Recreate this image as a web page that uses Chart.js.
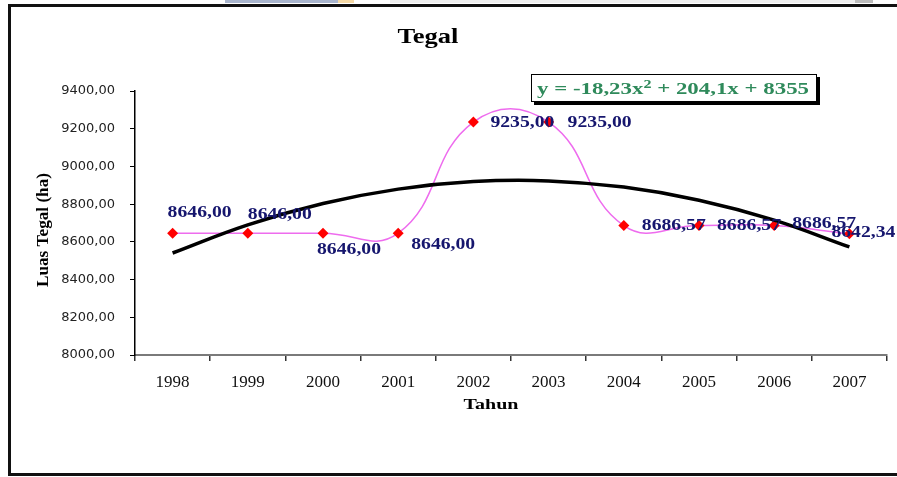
<!DOCTYPE html>
<html>
<head>
<meta charset="utf-8">
<title>Tegal</title>
<script src="https://cdn.jsdelivr.net/npm/chart.js@4.4.1/dist/chart.umd.min.js"></script>
<style>
  html, body { margin: 0; padding: 0; background: #fff; }
  #wrap { position: relative; width: 897px; height: 477px; overflow: hidden; background: #fff; }
  #frame {
    position: absolute; left: 8px; top: 4px; width: 900px; height: 466px;
    border-left: 3px solid #111; border-top: 3px solid #111; border-bottom: 3px solid #111;
  }
  .strip { position: absolute; top: 0; height: 3px; }
  #chart { position: absolute; left: 0; top: 0; }
</style>
</head>
<body>
<div id="wrap">
  <div class="strip" style="left:225px;width:113px;background:#a9b5cd;"></div>
  <div class="strip" style="left:338px;width:16px;background:#f5d9a6;"></div>
  <div class="strip" style="left:390px;width:465px;background:#efefef;"></div>
  <div class="strip" style="left:855px;width:18px;background:#bdbdbd;"></div>
  <div id="frame"></div>
  <canvas id="chart" width="897" height="477"></canvas>
</div>
<script>
// Luas lahan tegal per tahun (ha)
const years = ['1998', '1999', '2000', '2001', '2002', '2003', '2004', '2005', '2006', '2007'];
const luasTegal = [8646, 8646, 8646, 8646, 9235, 9235, 8686.57, 8686.57, 8686.57, 8642.34];
// Polynomial trend y = a·x² + b·x + c, x = 1 for the first year
const trendCoefficients = [-18.23, 204.1, 8355];
const yTicks = [8000, 8200, 8400, 8600, 8800, 9000, 9200, 9400];

const trendValues = years.map((_, i) => {
  const x = i + 1;
  const [a, b, c] = trendCoefficients;
  return a * x * x + b * x + c;
});

const fmt = v => Number(v).toFixed(2).replace('.', ',');
const fmtCoef = v => String(v).replace('.', ',');

// Offsets of each value label (left edge, vertical centre) from its point
const labelOffsets = [
  [-5, -20], [0, -18], [-6, 17], [13, 12], [17, 1],
  [19, 1], [18, 0], [18, 0], [18, -2], [-18, -1]
];

function drawStretched(ctx, text, x, y, sx, sy, align) {
  ctx.save();
  ctx.translate(x, y);
  ctx.scale(sx, sy);
  ctx.textAlign = align;
  ctx.textBaseline = 'middle';
  ctx.fillText(text, 0, 0);
  ctx.restore();
}

const annotate = {
  id: 'annotate',
  afterDraw(chart) {
    const ctx = chart.ctx;
    const SERIF = '"Liberation Serif", "Times New Roman", serif';

    // value labels
    const meta = chart.getDatasetMeta(0);
    ctx.save();
    ctx.font = 'bold 16px ' + SERIF;
    ctx.fillStyle = '#16166e';
    const sxLabel = 64 / ctx.measureText('8646,00').width;
    meta.data.forEach((pt, i) => {
      const [dx, dy] = labelOffsets[i];
      drawStretched(ctx, fmt(luasTegal[i]), pt.x + dx, pt.y + dy, sxLabel, 1, 'left');
    });
    ctx.restore();

    // chart title
    ctx.save();
    ctx.fillStyle = '#000';
    ctx.font = 'bold 21px ' + SERIF;
    drawStretched(ctx, 'Tegal', 428, 38, 61 / ctx.measureText('Tegal').width, 1, 'center');

    // x axis title
    ctx.font = 'bold 15px ' + SERIF;
    drawStretched(ctx, 'Tahun', 491, 405, 55 / ctx.measureText('Tahun').width, 1, 'center');

    // y axis title
    ctx.font = 'bold 15px ' + SERIF;
    const yTitle = 'Luas Tegal (ha)';
    const along = 114 / ctx.measureText(yTitle).width;
    ctx.save();
    ctx.translate(44, 230);
    ctx.rotate(-Math.PI / 2);
    drawStretched(ctx, yTitle, 0, 0, along, 1.1, 'center');
    ctx.restore();
    ctx.restore();

    // trend equation box
    const bx = 531, by = 74, bw = 286, bh = 28;
    ctx.save();
    ctx.fillStyle = '#000';
    ctx.fillRect(bx + 3, by + 3, bw, bh);
    ctx.fillStyle = '#fff';
    ctx.fillRect(bx, by, bw, bh);
    ctx.strokeStyle = '#000';
    ctx.lineWidth = 1;
    ctx.strokeRect(bx + 0.5, by + 0.5, bw - 1, bh - 1);

    const [a, b, c] = trendCoefficients;
    const part1 = 'y = ' + fmtCoef(a) + 'x';
    const sup = '2';
    const part2 = ' + ' + fmtCoef(b) + 'x + ' + fmtCoef(c);
    const baseFont = 'bold 17px ' + SERIF;
    const supFont = 'bold 12px ' + SERIF;
    ctx.font = baseFont;
    const w1 = ctx.measureText(part1).width;
    const w3 = ctx.measureText(part2).width;
    ctx.font = supFont;
    const w2 = ctx.measureText(sup).width;
    const sx = 272 / (w1 + w2 + w3);
    ctx.translate(537, 90);
    ctx.scale(sx, 1);
    ctx.fillStyle = '#2f8a5b';
    ctx.textAlign = 'left';
    ctx.textBaseline = 'middle';
    ctx.font = baseFont;
    ctx.fillText(part1, 0, 0);
    ctx.font = supFont;
    ctx.fillText(sup, w1, -5);
    ctx.font = baseFont;
    ctx.fillText(part2, w1 + w2, 0);
    ctx.restore();
  }
};

new Chart(document.getElementById('chart').getContext('2d'), {
  type: 'line',
  data: {
    labels: years,
    datasets: [
      {
        label: 'Luas Tegal',
        data: luasTegal,
        borderColor: '#ee6cee',
        borderWidth: 1.5,
        tension: 0.45,
        pointStyle: 'rectRot',
        pointRadius: 5.5,
        pointBackgroundColor: '#ff0000',
        pointBorderColor: '#ff0000',
        pointBorderWidth: 0,
        order: 1
      },
      {
        label: 'Poly. (Luas Tegal)',
        data: trendValues,
        borderColor: '#000',
        borderWidth: 3.5,
        tension: 0.4,
        pointRadius: 0,
        order: 0
      }
    ]
  },
  options: {
    responsive: false,
    animation: false,
    devicePixelRatio: 1,
    layout: { padding: { left: 0, right: 10, top: 91, bottom: 0 } },
    plugins: {
      legend: { display: false },
      title: { display: false },
      tooltip: { enabled: false }
    },
    scales: {
      x: {
        type: 'category',
        offset: true,
        grid: { offset: true, drawOnChartArea: false, drawTicks: true, tickLength: 6, tickColor: '#333', lineWidth: 1.5 },
        border: { color: '#7a7a7a', width: 2 },
        ticks: {
          font: { family: '"Liberation Serif", serif', size: 17 },
          color: '#111', padding: 11, maxRotation: 0, autoSkip: false
        },
        afterFit(scale) { scale.height = 122; }
      },
      y: {
        min: 8000,
        max: 9400,
        afterBuildTicks(scale) { scale.ticks = yTicks.map(v => ({ value: v })); },
        grid: { drawOnChartArea: false, drawTicks: true, tickLength: 5, tickColor: '#000' },
        border: { color: '#000', width: 1.5 },
        ticks: {
          font: { family: '"DejaVu Sans", sans-serif', size: 13 },
          color: '#222', padding: 15,
          callback: v => fmt(v)
        },
        afterFit(scale) { scale.width = 135; }
      }
    }
  },
  plugins: [annotate]
});
</script>
</body>
</html>
